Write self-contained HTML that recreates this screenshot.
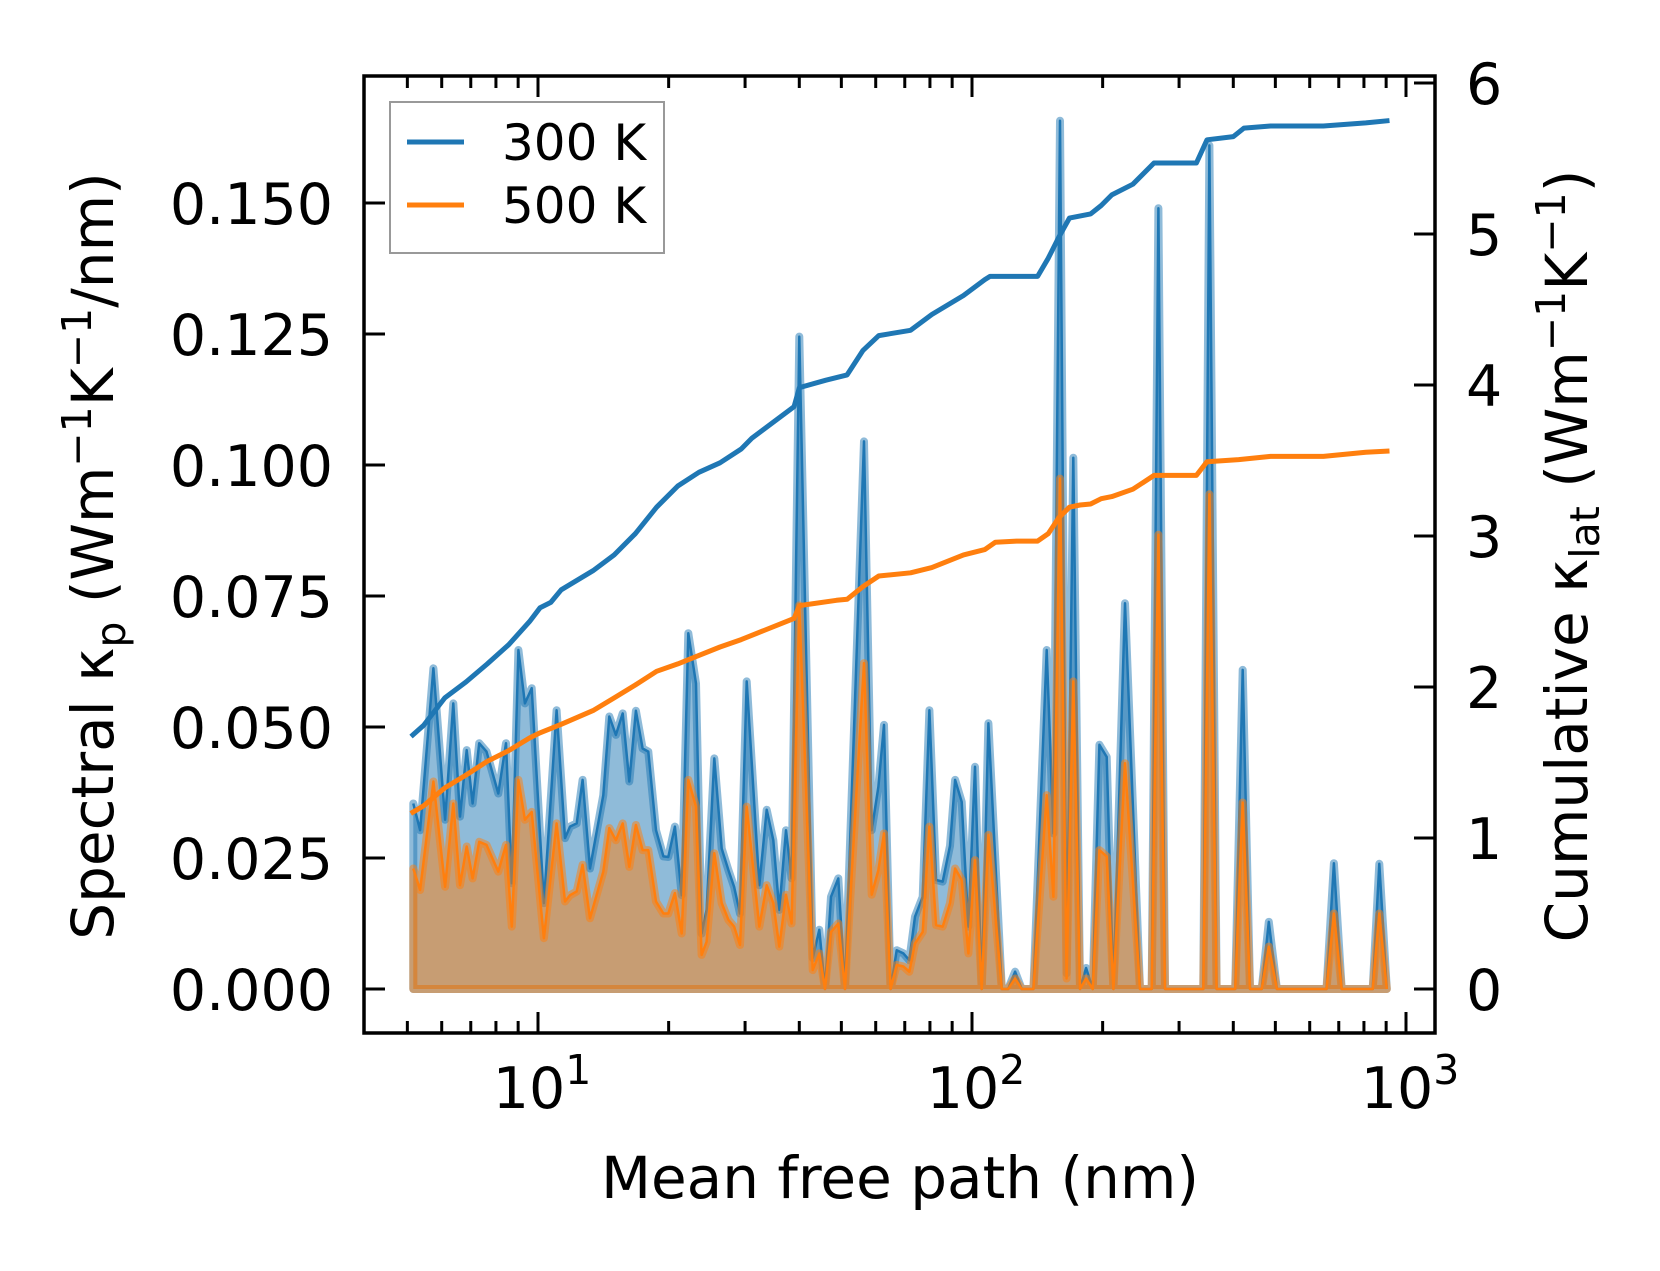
<!DOCTYPE html>
<html><head><meta charset="utf-8"><title>Spectral and cumulative thermal conductivity</title>
<style>
html,body{margin:0;padding:0;background:#fff;}
svg{display:block;font-family:"DejaVu Sans","Liberation Sans",sans-serif;}
</style></head>
<body>
<svg id="chart" width="1660" height="1271" viewBox="0 0 1660 1271" xmlns="http://www.w3.org/2000/svg">
<rect x="0" y="0" width="1660" height="1271" fill="#fff"/>
<g id="plot"></g>
<g id="axes"></g>
<g id="legend">
  <rect x="390" y="102" width="274" height="151" fill="#fff" fill-opacity="0.8" stroke="#999" stroke-width="2"/>
  <line x1="407" y1="142" x2="464" y2="142" stroke="#1f77b4" stroke-width="5"/>
  <text x="502" y="160" font-size="50" fill="#000">300 K</text>
  <line x1="407" y1="205" x2="464" y2="205" stroke="#ff7f0e" stroke-width="5"/>
  <text x="502" y="223" font-size="50" fill="#000">500 K</text>
</g>
<text x="900" y="1198" font-size="58" text-anchor="middle" fill="#000">Mean free path (nm)</text>
<text transform="translate(113,556) rotate(-90)" font-size="58" text-anchor="middle" fill="#000">Spectral κ<tspan font-size="41" dy="12">p</tspan><tspan dy="-12"> (Wm</tspan><tspan font-size="41" dy="-22">−1</tspan><tspan dy="22">K</tspan><tspan font-size="41" dy="-22">−1</tspan><tspan dy="22">/nm)</tspan></text>
<text transform="translate(1587,556) rotate(-90)" font-size="58" text-anchor="middle" fill="#000">Cumulative κ<tspan font-size="41" dy="12">lat</tspan><tspan dy="-12"> (Wm</tspan><tspan font-size="41" dy="-22">−1</tspan><tspan dy="22">K</tspan><tspan font-size="41" dy="-22">−1</tspan><tspan dy="22">)</tspan></text>
</svg>
<script>
// ---- data ----
const specMfp = [5.16,5.35,5.74,6.11,6.38,6.61,6.85,7.07,7.32,7.61,8.10,8.44,8.70,9.01,9.33,9.67,10.32,11.04,11.54,11.85,12.28,12.67,13.18,14.14,14.60,15.12,15.67,16.23,16.81,17.42,17.95,18.70,19.45,19.96,
20.68,21.43,22.20,23.12,23.82,24.46,25.48,26.50,27.46,28.30,29.21,30.26,32.36,33.65,34.85,35.98,37.27,38.41,40.0,42.95,44.49,45.85,47.32,49.2,50.97,56.38,58.73,60.85,62.70,64.93,67.07,69.49,71.72,73.91,76.98,79.76,82.64,85.6,88.99,
91.4,94.7,98.1,101.6,105.3,109.1,117.1,121.2,125.7,130.2,138.5,148.6,154.0,159.5,165.2,171.2,177.4,183.2,189.7,196.6,204.4,211.7,225.2,243.8,259.4,268.8,278.4,341.2,352.3,366,
404,420.5,437,465,483,504,656,682,711,838,868,903];
const spec300 = [.0354,.0303,.0612,.0323,.0545,.0329,.0456,.0354,.0469,.0453,.0373,.0469,.0202,.0647,.0545,.0574,.0164,.0532,.0288,.0310,.0316,.0399,.0230,.0370,.0520,.0485,.0526,.0396,.0531,.0459,.0453,.0303,.0253,.0252,
.0310,.0179,.0679,.0583,.0106,.0151,.0440,.0268,.0227,.0195,.0144,.0587,.0198,.0342,.0284,.0151,.0303,.0211,.1245,.0059,.0113,0,.0176,.0211,0,.1045,.0303,.0386,.0504,0,.0074,.0068,.0055,.0138,.0176,.0532,.0208,.0205,.0273,
.0399,.0357,.0119,.0424,0,.0507,0,0,.0033,0,0,.0647,.0297,.1657,.003,.1014,0,.004,0,.0466,.0443,0,.0736,0,0,.149,0,0,.161,0,
0,.0609,0,0,.0128,0,0,.0240,0,0,.0239,0];
const spec500 = [.0230,.0189,.0396,.0195,.0354,.0198,.0272,.0211,.0281,.0275,.0224,.0275,.0119,.0399,.0323,.0338,.0097,.0316,.0167,.0179,.0186,.0237,.0135,.0224,.0307,.0284,.0316,.0233,.0313,.0265,.0265,.0167,.0144,.0144,
.0183,.0106,.0399,.0348,.0065,.0090,.0259,.0164,.0132,.0119,.0084,.0348,.0119,.0198,.0164,.0081,.0180,.0125,.0732,.0036,.0068,0,.0109,.0125,0,.0622,.0180,.0227,.0297,0,.0046,.0043,.0033,.0087,.0109,.0310,.0122,.0119,.0164,
.0230,.0208,.0068,.0246,0,.0294,0,0,.002,0,0,.0370,.0176,.0974,.002,.0587,0,.002,0,.0265,.0253,0,.0431,0,0,.0867,0,0,.0944,0,
0,.0356,0,0,.0081,0,0,.0144,0,0,.0144,0];
const cum300Mfp = [5.15,5.45,6.10,6.83,7.64,8.55,9.56,10.11,10.70,11.31,13.39,14.98,16.76,18.76,20.99,23.48,26.27,29.39,31.09,38.92,40.03,46.07,51.54,56.09,61.0,72.2,80.8,95.6,107.0,110.0,141.6,149.8,158.5,167.7,187.6,198.5,209.9,234.8,262.7,328.9,347.9,400.3,423.4,487.4,645.2,807.9,903.9];
const cum300 = [1.683,1.746,1.928,2.034,2.153,2.279,2.433,2.525,2.560,2.644,2.770,2.875,3.015,3.191,3.331,3.422,3.485,3.576,3.647,3.857,3.983,4.032,4.067,4.229,4.327,4.362,4.467,4.593,4.698,4.719,4.719,4.839,4.979,5.105,5.133,5.189,5.259,5.330,5.470,5.470,5.624,5.645,5.701,5.715,5.715,5.736,5.750];
const cum500Mfp = [5.15,5.45,6.10,6.83,7.64,8.55,9.56,10.11,11.31,13.39,14.98,16.76,18.76,20.99,23.48,26.27,29.39,32.89,38.92,40.03,48.74,51.54,56.09,61.0,72.2,80.8,95.6,107.0,113.2,126.6,141.6,149.8,158.5,167.7,177.4,187.6,198.5,209.9,234.8,262.7,328.9,347.9,411.7,487.4,645.2,807.9,903.9];
const cum500 = [1.171,1.213,1.332,1.417,1.508,1.578,1.662,1.697,1.753,1.844,1.928,2.013,2.104,2.153,2.209,2.265,2.314,2.370,2.454,2.539,2.574,2.581,2.665,2.735,2.756,2.791,2.875,2.910,2.959,2.966,2.966,3.015,3.121,3.191,3.205,3.212,3.247,3.261,3.310,3.401,3.401,3.492,3.506,3.527,3.527,3.555,3.562];
const leftTicks = [0,0.025,0.05,0.075,0.1,0.125,0.15];
const leftTickLabels = ["0.000","0.025","0.050","0.075","0.100","0.125","0.150"];
const rightTicks = [0,1,2,3,4,5,6];
const rightTickLabels = ["0","1","2","3","4","5","6"];
const xDecades = [1,2,3];

// ---- axis functions ----
const AX = {l:364, r:1435, t:76, b:1033};
function X(m){ return 538 + (Math.log10(m) - 1) * 434; }
function YL(v){ return 989 - v * 5240; }
function YR(v){ return 989 - v * 151; }
const NS = "http://www.w3.org/2000/svg";
function mk(tag, attrs, parent){
  const e = document.createElementNS(NS, tag);
  for (const k in attrs) e.setAttribute(k, attrs[k]);
  parent.appendChild(e);
  return e;
}
const plot = document.getElementById('plot');
const axes = document.getElementById('axes');

function drawSpectrum(vals, color, nm){
  let line = '';
  for (let i = 0; i < specMfp.length; i++) line += (i ? 'L' : 'M') + X(specMfp[i]).toFixed(1) + ',' + YL(vals[i]).toFixed(1);
  const n = specMfp.length - 1;
  const poly = line + 'L' + X(specMfp[n]).toFixed(1) + ',' + YL(0) + 'L' + X(specMfp[0]).toFixed(1) + ',' + YL(0) + 'Z';
  const f = mk('path', {d: poly, fill: color, 'fill-opacity': 0.5, stroke: 'none'}, plot);
  
  
  const e = mk('path', {d: poly, fill: 'none', stroke: color, 'stroke-opacity': 0.5, 'stroke-width': 8, 'stroke-linejoin': 'round'}, plot);
  
  
  const l = mk('path', {d: line, fill: 'none', stroke: color, 'stroke-width': 2.5, 'stroke-linejoin': 'round'}, plot);
  
  
}
drawSpectrum(spec300, '#1f77b4', 'spectral-300k');
drawSpectrum(spec500, '#ff7f0e', 'spectral-500k');

function drawCum(xs, vals, color, nm){
  let d = '';
  for (let i = 0; i < xs.length; i++) d += (i ? 'L' : 'M') + X(xs[i]).toFixed(1) + ',' + YR(vals[i]).toFixed(1);
  const p = mk('path', {d: d, fill: 'none', stroke: color, 'stroke-width': 5, 'stroke-linejoin': 'round', 'stroke-linecap': 'square'}, plot);
  
  
}
drawCum(cum300Mfp, cum300, '#1f77b4', 'cumulative-300k-line');
drawCum(cum500Mfp, cum500, '#ff7f0e', 'cumulative-500k-line');

// frame
const fr = mk('rect', {x: AX.l, y: AX.t, width: AX.r - AX.l, height: AX.b - AX.t, fill: 'none', stroke: '#000', 'stroke-width': 3.5}, axes);



// x ticks (bottom and top)
for (let d = 0; d <= 3; d++) {
  for (let k = 1; k <= 9; k++) {
    const m = k * Math.pow(10, d);
    const x = X(m);
    if (x < AX.l + 2 || x > AX.r - 2) continue;
    const len = k === 1 ? 21 : 12;
    const t1 = mk('line', {x1: x, y1: AX.b, x2: x, y2: AX.b - len, stroke: '#000', 'stroke-width': 3}, axes);
    
    
    const t2 = mk('line', {x1: x, y1: AX.t, x2: x, y2: AX.t + len, stroke: '#000', 'stroke-width': 3}, axes);
    
    
  }
}
xDecades.forEach(function(p){
  const x = X(Math.pow(10, p));
  const t = mk('text', {x: x + 4, y: 1108, 'font-size': 57, 'text-anchor': 'middle', fill: '#000'}, axes);
  
  
  t.appendChild(document.createTextNode('10'));
  const s = mk('tspan', {'font-size': 41, dy: -24}, t);
  s.textContent = String(p);
});

// left ticks
leftTicks.forEach(function(v, i){
  const y = YL(v);
  const t = mk('line', {x1: AX.l, y1: y, x2: AX.l + 21, y2: y, stroke: '#000', 'stroke-width': 3}, axes);
  
  
  const lb = mk('text', {x: 333, y: y + 21, 'font-size': 57, 'text-anchor': 'end', fill: '#000'}, axes);
  
  
  lb.textContent = leftTickLabels[i];
});
// right ticks
rightTicks.forEach(function(v, i){
  const y = YR(v);
  const t = mk('line', {x1: AX.r, y1: y, x2: AX.r - 21, y2: y, stroke: '#000', 'stroke-width': 3}, axes);
  
  
  const lb = mk('text', {x: 1466, y: y + 21, 'font-size': 57, 'text-anchor': 'start', fill: '#000'}, axes);
  
  
  lb.textContent = rightTickLabels[i];
});
</script>
</body></html>
